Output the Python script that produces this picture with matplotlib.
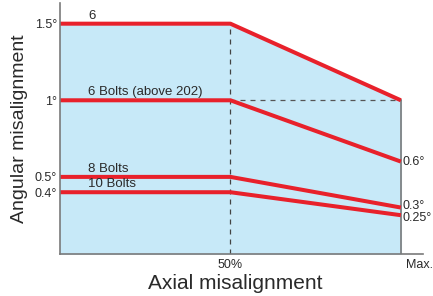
import matplotlib.pyplot as plt

plt.rcParams['font.family'] = ['Liberation Sans', 'DejaVu Sans']

axial = [0, 50, 100]  # % of max axial misalignment
bolts_6 = [1.5, 1.5, 1.0]
bolts_6_above = [1.0, 1.0, 0.6]
bolts_8 = [0.5, 0.5, 0.3]
bolts_10 = [0.4, 0.4, 0.25]
series_labels = ['6', '6 Bolts (above 202)', '8 Bolts', '10 Bolts']
ytick_vals = [0.4, 0.5, 1.0, 1.5]
ytick_labels = ['0.4°', '0.5°', '1°', '1.5°']
end_labels = ['0.6°', '0.3°', '0.25°']

red = '#e8212b'
gray = '#7a7a7a'
txt = '#2a2a2a'

fig = plt.figure(figsize=(4.33, 2.96), dpi=100)
ax = fig.add_axes([60 / 433, 42.5 / 296, (423 - 60) / 433, (253.5 - 3) / 296])
ax.set_xlim(0, 106.5)
ax.set_ylim(0, 1.635)

ax.fill_between(axial, 0, bolts_6, color='#c7e9f8', zorder=0)
ax.plot([50, 50], [0, 1.5], color='#444444', lw=0.9, ls=(0, (4, 4)))
ax.plot([50, 100], [1.0, 1.0], color='#555555', lw=0.9, ls=(0, (4, 4)))
ax.plot([100, 100], [0, 1.0], color=gray, lw=1.2)

for ys in [bolts_6, bolts_6_above, bolts_8, bolts_10]:
    ax.plot(axial, ys, color=red, lw=2.9, solid_capstyle='butt')

label_y = [1.5, 1.0, 0.5, 0.4]
for lab, yv in zip(series_labels, label_y):
    ax.text(8.3, yv + 0.012, lab, fontsize=9.5, color=txt, va='bottom')

for lab, yv, dy in zip(end_labels, [0.6, 0.3, 0.25], [0.0, 0.012, -0.02]):
    ax.text(100.5, yv + dy, lab, fontsize=9, color=txt, va='center')

ax.spines['top'].set_visible(False)
ax.spines['right'].set_visible(False)
ax.spines['left'].set_color(gray)
ax.spines['bottom'].set_color(gray)
ax.spines['left'].set_linewidth(1.2)
ax.spines['bottom'].set_linewidth(1.2)

ax.set_yticks(ytick_vals)
ax.set_yticklabels(ytick_labels, fontsize=9, color=txt)
ax.set_xticks([50, 105.5])
ax.set_xticklabels(['50%', 'Max.'], fontsize=9, color=txt)
ax.tick_params(axis='y', length=0, pad=2)
ax.tick_params(axis='x', length=0, pad=4)

ax.set_xlabel('Axial misalignment', fontsize=15, color=txt)
ax.xaxis.set_label_coords(0.482, -0.118)
ax.xaxis.label.set_va('center')
ax.set_ylabel('Angular misalignment', fontsize=14, color=txt, labelpad=5)

fig.savefig('out.png', dpi=100)
